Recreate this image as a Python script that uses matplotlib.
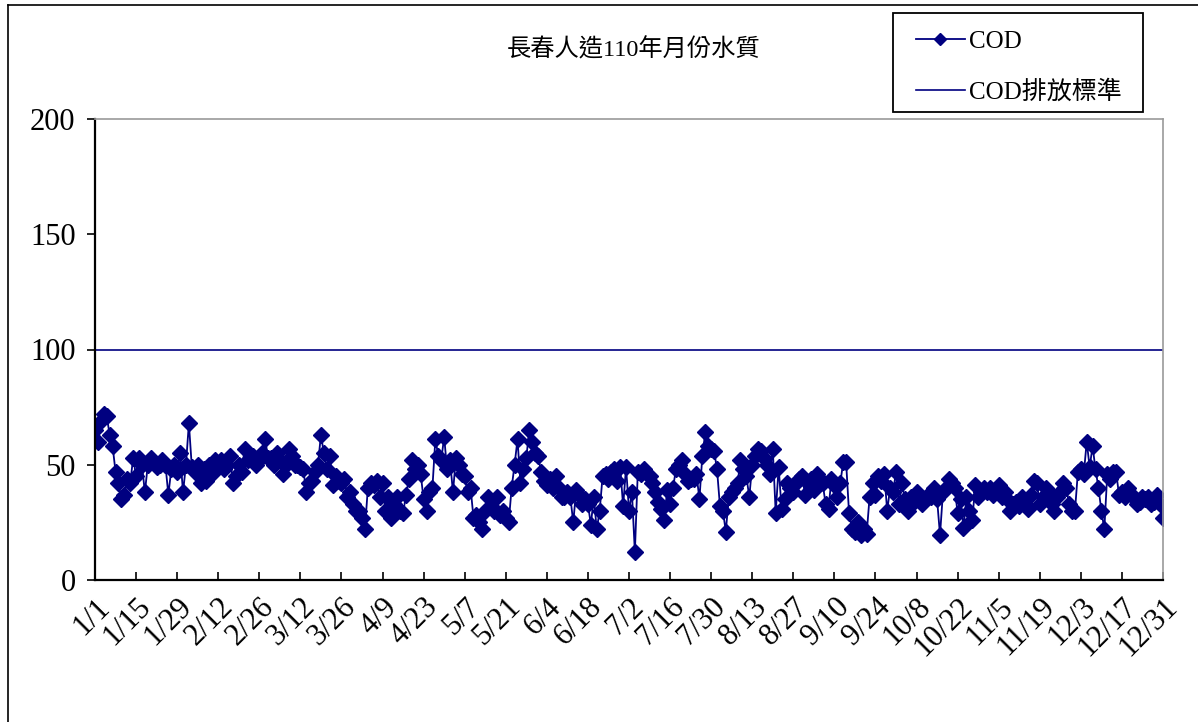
import matplotlib
matplotlib.use("Agg")
import matplotlib.pyplot as plt
from matplotlib.lines import Line2D
from matplotlib.patches import Rectangle
import numpy as np

# ---- data (COD, mg/L), by month ----
jan = [65, 60, 69, 72, 71, 63, 58, 47, 42, 35, 37, 44, 42, 53, 45, 53, 50, 38, 50, 53,
       51, 49, 50, 52, 50, 37, 48, 50, 47, 55, 38]
feb = [50, 68, 49, 47, 50, 42, 48, 43, 50, 46, 52, 50, 52, 48, 50, 54, 42, 45, 50, 47,
       57, 52, 54, 54, 50, 52, 55, 61]
mar = [53, 53, 50, 55, 52, 46, 50, 57, 54, 50, 50, 49, 48, 38, 42, 43, 47, 50, 63, 55,
       48, 54, 41, 45, 43, 42, 44, 36, 38, 33, 30]
apr = [30, 27, 22, 40, 42, 41, 43, 36, 42, 30, 36, 27, 33, 36, 30, 29, 37, 44, 52, 48,
       50, 46, 35, 30, 38, 40, 61, 54, 52, 62]
may = [48, 52, 38, 53, 50, 46, 45, 38, 40, 27, 28, 25, 22, 30, 36, 32, 30, 36, 28, 30,
       27, 25, 40, 50, 61, 42, 48, 53, 65, 60, 55]
jun = [54, 47, 43, 41, 44, 40, 45, 40, 36, 36, 38, 36, 25, 39, 37, 33, 35, 33, 24, 36,
       22, 30, 45, 46, 44, 47, 48, 43, 49, 32]
jul = [49, 30, 38, 12, 47, 46, 48, 46, 45, 42, 38, 34, 31, 26, 39, 33, 40, 48, 50, 52,
       46, 43, 44, 44, 46, 35, 54, 64, 58, 57, 56]
aug = [48, 32, 30, 21, 36, 38, 40, 42, 52, 48, 45, 36, 50, 54, 57, 56, 53, 50, 46, 57,
       29, 49, 31, 35, 42, 40, 38, 42, 44, 45, 37]
sep = [42, 44, 39, 46, 44, 42, 33, 31, 44, 41, 36, 42, 51, 51, 29, 22, 21, 25, 19.5, 22,
       20, 36, 42, 37, 45, 43, 46, 30, 40, 38]
oct_ = [47, 33, 42, 35, 30, 36, 34, 38, 36, 33, 35, 37, 36, 40, 35, 19.5, 38, 40, 44, 42,
        40, 29, 35, 22.5, 36, 30, 26, 41, 36, 38, 40]
nov = [38, 40, 37, 38, 41, 36, 38, 35, 30, 33, 34, 32, 36, 33, 31, 37, 43, 42, 33, 36,
       40, 38, 33, 30, 36, 38, 42, 40, 33, 30]
dec = [30, 47, 48, 46, 60, 49, 58, 48, 40, 30, 22, 46, 44, 47, 47, 37, 38, 36, 40, 37,
       36, 33, 34, 36, 35, 36, 33, 34, 37, 33, 27]

cod_standard = 100

tick_labels = ["1/1", "1/15", "1/29", "2/12", "2/26", "3/12", "3/26", "4/9", "4/23",
               "5/7", "5/21", "6/4", "6/18", "7/2", "7/16", "7/30", "8/13", "8/27",
               "9/10", "9/24", "10/8", "10/22", "11/5", "11/19", "12/3", "12/17", "12/31"]
tick_step = 14

title = "長春人造110年月份水質"
series_names = ["COD", "COD排放標準"]

cod = jan + feb + mar + apr + may + jun + jul + aug + sep + oct_ + nov + dec
days = np.arange(len(cod))

# ---- styling ----
FONT = ["Liberation Serif", "Noto Sans CJK TC", "DejaVu Sans"]
plt.rcParams["font.family"] = FONT
NAVY = "#000080"

W, H = 1198, 722
fig = plt.figure(figsize=(W / 100, H / 100), dpi=100)
fig.patch.set_facecolor("white")

# outer chart frame (left and top edges visible)
fig.add_artist(Line2D([8 / W, 8 / W], [0, 1 - 5 / H], color="black", lw=1.2,
                      transform=fig.transFigure))
fig.add_artist(Line2D([8 / W, 1], [1 - 5 / H, 1 - 5 / H], color="black", lw=1.2,
                      transform=fig.transFigure))

left, right, top, bottom = 95, 1163, 119, 580
ax = fig.add_axes([left / W, 1 - bottom / H, (right - left) / W, (bottom - top) / H])

l1, = ax.plot(days, cod, color=NAVY, lw=1.3, marker="D", markersize=8.2,
              markerfacecolor=NAVY, markeredgecolor=NAVY, label=series_names[0])
l2 = ax.axhline(cod_standard, color=NAVY, lw=1.2, label=series_names[1])

ax.set_xlim(0, len(cod) - 1)
ax.set_ylim(0, 200)
ax.set_yticks([0, 50, 100, 150, 200])
ax.set_yticklabels(["0", "50", "100", "150", "200"], fontsize=22)
ax.set_xticks(np.arange(len(tick_labels)) * tick_step)
ax.set_xticklabels(tick_labels, fontsize=22, rotation=45, ha="right",
                   rotation_mode="anchor")
ax.tick_params(axis="x", direction="in", length=6, width=1.2, pad=9)
ax.tick_params(axis="y", direction="out", length=6, width=1.2, pad=8)

for s in ["left", "bottom"]:
    ax.spines[s].set_color("black")
    ax.spines[s].set_linewidth(1.6)
for s in ["right", "top"]:
    ax.spines[s].set_color("#9a9a9a")
    ax.spines[s].set_linewidth(1.2)

fig.text(634 / W, 1 - 50 / H, title, fontsize=17.5, ha="center", va="center",
         family=FONT)

# legend box drawn separately to match the reference padding
fig.add_artist(Rectangle((893 / W, 1 - 112 / H), (1143 - 893) / W, (112 - 13) / H,
                         transform=fig.transFigure, fill=False,
                         edgecolor="black", lw=1.3))
leg = fig.legend(handles=[l1, l2], loc="upper left",
                 bbox_to_anchor=(916 / W, 1 - 30 / H), fontsize=18,
                 frameon=False, handlelength=1.95, handletextpad=0.18,
                 labelspacing=1.1, borderpad=0, borderaxespad=0, markerscale=0.8)
for t in leg.get_texts():
    t.set_family(FONT)

fig.savefig("out.png", dpi=100, facecolor="white")
